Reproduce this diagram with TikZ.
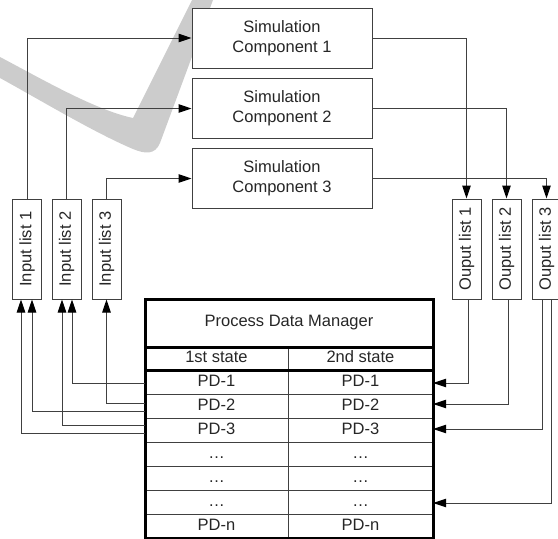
\documentclass[tikz,border=0pt]{standalone}
\usepackage{fontspec}
\setmainfont{Liberation Sans}
\usetikzlibrary{arrows.meta}
\begin{document}
\begin{tikzpicture}[x=1pt,y=-1pt,
  every node/.style={font=\fontsize{16.5}{20}\selectfont, text=black!85},
  simbox/.style={draw=black!75, line width=1pt, fill=white, minimum width=180pt,
    minimum height=60pt, align=center, inner sep=0pt},
  listbox/.style={draw=black!75, line width=1pt, fill=white, minimum width=29pt,
    minimum height=100pt, inner sep=0pt},
  link/.style={draw=black!75, line width=1pt,
    -{Triangle[length=13pt,width=8.5pt,color=black]}},
  cell/.style={inner sep=0pt, text height=12pt, text depth=3.5pt},
  leftcell/.style={cell, minimum width=143pt},
  rightcell/.style={cell, minimum width=145pt},
  thinrule/.style={draw=black!75, line width=0.9pt},
  thickrule/.style={draw=black, line width=3pt},
  checkband/.style={fill=black!20}
  ]
\useasboundingbox (0,0) rectangle (558,539);

% light check-mark stroke in the background
\fill[checkband] (0,57) .. controls (40,78) and (95,110) .. (133,118)
  -- (192,0) -- (213,0) -- (160,143)
  .. controls (155,155) and (145,154) .. (133,149)
  .. controls (95,133) and (40,100) .. (0,78) -- cycle;

% simulation components
\node[simbox] (c1) at (282,38)    {Simulation\\Component 1};
\node[simbox] (c2) at (282,108.5) {Simulation\\Component 2};
\node[simbox] (c3) at (282,178.5) {Simulation\\Component 3};

% input and output lists
\node[listbox] (in1)  at (27,249)    {\rotatebox{90}{Input list 1}};
\node[listbox] (in2)  at (66.5,249)  {\rotatebox{90}{Input list 2}};
\node[listbox] (in3)  at (106.5,249) {\rotatebox{90}{Input list 3}};
\node[listbox] (out1) at (466.5,249) {\rotatebox{90}{Ouput list 1}};
\node[listbox] (out2) at (506.5,249) {\rotatebox{90}{Ouput list 2}};
\node[listbox] (out3) at (546.5,249) {\rotatebox{90}{Ouput list 3}};

% process data manager table
\node[inner sep=0pt] (pdm) at (289,323) {Process Data Manager};
\node[leftcell] (s1) at (216.5,358.5) {1st state};
\node[rightcell] (s2) at (360.5,358.5) {2nd state};
\foreach \i/\t in {1/PD-1,2/PD-2,3/PD-3,4/…,5/…,6/…,7/PD-n}{
  \node[leftcell] (a\i) at (216.5,{382+24*(\i-1)}) {\t};
  \node[rightcell] (b\i) at (360.5,{382+24*(\i-1)}) {\t};
}
\foreach \y in {394,418,442,466,490,514}
  \draw[thinrule] (145,\y) -- (433,\y);
\draw[thinrule] (288,347) -- (288,538);
\draw[thickrule] (145,347) -- (433,347);
\draw[thickrule] (145,370) -- (433,370);
\draw[thickrule] (145,299) rectangle (433,538);

% lists feeding the components
\draw[link] (in1.north) |- (c1.west);
\draw[link] (in2.north) |- (c2.west);
\draw[link] (in3.north) |- (c3.west);

% components writing to output lists
\draw[link] (c1.east) -| (out1.north);
\draw[link] (c2.east) -| (out2.north);
\draw[link] (c3.east) -| (out3.north);

% first state read into the input lists
\draw[link] ([yshift=-1pt]a1.west) -| ([xshift=5.5pt]in2.south);
\draw[link] ([yshift=3pt]a2.west)  -| (in3.south);
\draw[link] ([yshift=-5pt]a2.west) -| ([xshift=5pt]in1.south);
\draw[link] ([yshift=5pt]a3.west)  -| ([xshift=-4.5pt]in2.south);
\draw[link] ([yshift=-3pt]a3.west) -| ([xshift=-6pt]in1.south);

% output lists written into the second state
\draw[link] ([xshift=1.5pt]out1.south)  |- ([yshift=-1pt]b1.east);
\draw[link] ([xshift=1.5pt]out2.south)  |- ([yshift=2pt]b2.east);
\draw[link] ([xshift=-4.5pt]out3.south) |- ([yshift=1pt]b3.east);
\draw[link] ([xshift=4.5pt]out3.south)  |- ([yshift=-1pt]b6.east);
\end{tikzpicture}
\end{document}
